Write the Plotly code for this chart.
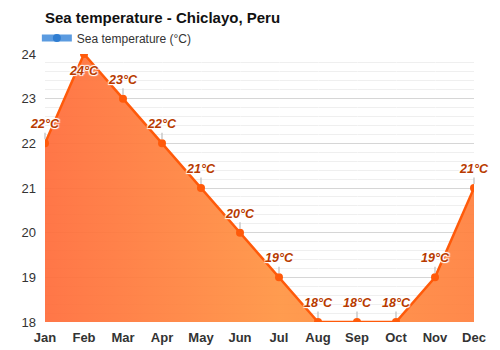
import plotly.graph_objects as go

months = ["Jan", "Feb", "Mar", "Apr", "May", "Jun", "Jul", "Aug", "Sep", "Oct", "Nov", "Dec"]
sea_temp = [22, 24, 23, 22, 21, 20, 19, 18, 18, 18, 19, 21]
title_text = "Sea temperature - Chiclayo, Peru"
legend_name = "Sea temperature (°C)"
y_ticks = [18, 19, 20, 21, 22, 23, 24]

x_idx = list(range(len(months)))

fig = go.Figure()

# filled area with the temperature line
fig.add_trace(go.Scatter(
    x=x_idx, y=sea_temp,
    mode="lines+markers",
    line=dict(color="#FF5A0A", width=2.5),
    marker=dict(color="#FF5A0A", size=8),
    fill="tozeroy",
    fillgradient=dict(
        type="horizontal",
        colorscale=[[0, "rgba(255,108,58,0.93)"], [0.55, "rgba(255,148,66,0.93)"],
                    [1, "rgba(255,128,62,0.93)"]],
    ),
    showlegend=False,
    hoverinfo="skip",
))

# legend entry
fig.add_trace(go.Scatter(
    x=[None], y=[None],
    mode="lines+markers",
    name=legend_name,
    line=dict(color="#5B9BE0", width=7),
    marker=dict(color="#2F7DD1", size=8),
))

# value labels
halo = "1px 1px 1px white, -1px -1px 1px white, 1px -1px 1px white, -1px 1px 1px white"
for i, v in enumerate(sea_temp):
    top = i == sea_temp.index(max(sea_temp))
    fig.add_annotation(
        x=i, y=v, text=f"{v}°C",
        showarrow=not top,
        arrowhead=0, arrowwidth=1.2, arrowcolor="#BDBDBD",
        ax=0, ay=-19,
        yshift=-17 if top else 0,
        standoff=4,
        font=dict(family="Arial, Liberation Sans", size=12.5, color="#B83A00",
                  weight="bold", style="italic", shadow=halo),
    )

fig.update_layout(
    width=500, height=350,
    margin=dict(l=45, r=26, t=54, b=28, autoexpand=False),
    paper_bgcolor="white", plot_bgcolor="white",
    font=dict(family="Arial, Liberation Sans", color="#333333"),
    title=dict(text=title_text, x=45 / 500, xanchor="left", xref="container",
               y=1 - 18 / 350, yanchor="middle", yref="container",
               font=dict(size=15, color="#111111", weight="bold")),
    legend=dict(x=-0.019, xanchor="left", y=1 - 38 / 350, yanchor="middle", yref="container",
                orientation="h", font=dict(size=12, color="#333333"),
                bgcolor="rgba(0,0,0,0)", itemwidth=30),
    xaxis=dict(
        range=[0, 11], tickmode="array", tickvals=x_idx, ticktext=months,
        showgrid=True, gridcolor="rgba(255,255,255,0.35)", gridwidth=1,
        layer="above traces", zeroline=False, showline=False,
        tickfont=dict(size=13, color="#333333", weight="bold"), ticklabelstandoff=6,
    ),
    yaxis=dict(
        range=[18, 24], tickvals=y_ticks, showgrid=True, gridcolor="#D6D6D6", gridwidth=1,
        zeroline=False, showline=False, tickfont=dict(size=13, color="#333333"),
        ticklabelstandoff=8,
        minor=dict(dtick=0.2, showgrid=True, gridcolor="#EFEFEF", gridwidth=1),
    ),
)

fig.write_html("out.html")
